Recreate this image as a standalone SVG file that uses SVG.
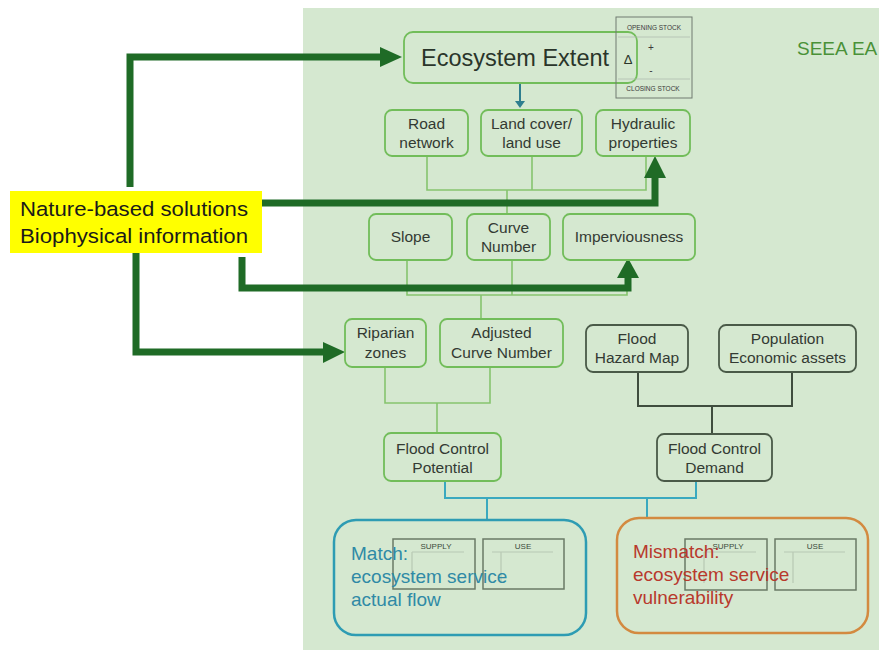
<svg xmlns="http://www.w3.org/2000/svg" width="879" height="650" viewBox="0 0 879 650">
  <style>
    text { font-family: "Liberation Sans", Arial, sans-serif; }
    .node rect { fill: #d5e8d0; stroke: #72bd5a; stroke-width: 1.8; }
    .node.dark rect { stroke: #4a5a48; stroke-width: 1.8; }
    .lbl { font-size: 15.5px; fill: #333a33; text-anchor: middle; }
    .tree { fill: none; stroke: #86c46e; stroke-width: 1.6; }
    .tree-dark { fill: none; stroke: #3f4d3e; stroke-width: 2; }
    .teal { fill: none; stroke: #3aa9bf; stroke-width: 2; }
    .nbs { fill: none; stroke: #1f6b26; stroke-width: 7; stroke-linejoin: miter; }
    .head { fill: #1f6b26; }
    .acct { fill: none; stroke: #6a7a66; stroke-width: 1.5; }
    .acct-line { fill: none; stroke: #b8c8b4; stroke-width: 1.2; }
    .acct-txt { font-size: 8px; fill: #3a4a3a; text-anchor: middle; }
    .stock-txt { font-size: 6.5px; fill: #3a3a3a; text-anchor: middle; }
  </style>

  <!-- SEEA EA panel -->
  <rect x="303" y="8" width="576" height="642" fill="#d5e8d0"/>
  <text x="797" y="55" font-size="19" fill="#4a9138">SEEA EA</text>

  <!-- Connectors -->
  <g id="connectors">
    <!-- extent to land cover -->
    <line x1="520" y1="83" x2="520" y2="103" stroke="#2e7e8e" stroke-width="2"/>
    <polygon points="515,101 525,101 520,108" fill="#2e7e8e"/>

    <!-- row 2 to row 3 -->
    <path class="tree" d="M427,156 V190 H646 V156 M532,156 V190 M507,190 V214"/>
    <!-- row 3 to row 4 -->
    <path class="tree" d="M407,260 V295 H627 V260 M512,260 V295 M481,295 V318"/>
    <!-- row 4 to potential -->
    <path class="tree" d="M385,367 V403 H490 V367 M437,403 V433"/>
    <!-- hazard and exposure to demand -->
    <path class="tree-dark" d="M638,372 V406 H792 V372 M712,406 V434"/>
    <!-- potential and demand to match / mismatch -->
    <path class="teal" d="M445,481 V498 H696 V481 M487,498 V520 M647,498 V518"/>

    <!-- nature-based solutions arrows -->
    <path class="nbs" d="M130,187 V57 H382"/>
    <polygon class="head" points="380,47 402,57 380,67"/>
    <path class="nbs" d="M262,203 H655 V176"/>
    <polygon class="head" points="644,178 655,156 666,178"/>
    <path class="nbs" d="M242,257 V288 H628 V276"/>
    <polygon class="head" points="617,278 628,258 639,278"/>
    <path class="nbs" d="M136,253 V352 H325"/>
    <polygon class="head" points="323,342 345,352 323,363"/>
  </g>

  <!-- Ecosystem Extent with stock account -->
  <g id="ecosystem-extent" class="node">
    <rect x="404" y="32" width="233" height="51" rx="9"/>
    <text x="421" y="66" font-size="23.5" fill="#2a352a">Ecosystem Extent</text>
    <text x="628" y="64" font-size="13" fill="#2a352a" text-anchor="middle">Δ</text>
  </g>
  <g id="stock-account">
    <rect x="616" y="17" width="76" height="81" fill="none" stroke="#707a70" stroke-width="1"/>
    <line x1="618" y1="37" x2="690" y2="37" stroke="#b0bcb0" stroke-width="0.8"/>
    <line x1="618" y1="79" x2="690" y2="79" stroke="#b0bcb0" stroke-width="0.8"/>
    <text class="stock-txt" x="654" y="30">OPENING STOCK</text>
    <text class="stock-txt" x="651" y="51" style="font-size:10px">+</text>
    <text class="stock-txt" x="651" y="74" style="font-size:10px">-</text>
    <text class="stock-txt" x="653" y="91">CLOSING STOCK</text>
  </g>

  <!-- Row 2 -->
  <g id="road-network" class="node">
    <rect x="385" y="110" width="83" height="46" rx="7"/>
    <text class="lbl" x="426.5" y="129">Road</text>
    <text class="lbl" x="426.5" y="148">network</text>
  </g>
  <g id="land-cover" class="node">
    <rect x="481" y="110" width="101" height="46" rx="7"/>
    <text class="lbl" x="531.5" y="129">Land cover/</text>
    <text class="lbl" x="531.5" y="148">land use</text>
  </g>
  <g id="hydraulic-properties" class="node">
    <rect x="596" y="110" width="94" height="46" rx="7"/>
    <text class="lbl" x="643" y="129">Hydraulic</text>
    <text class="lbl" x="643" y="148">properties</text>
  </g>

  <!-- Row 3 -->
  <g id="slope" class="node">
    <rect x="369" y="214" width="83" height="46" rx="7"/>
    <text class="lbl" x="410.5" y="242">Slope</text>
  </g>
  <g id="curve-number" class="node">
    <rect x="467" y="214" width="83" height="46" rx="7"/>
    <text class="lbl" x="508.5" y="233">Curve</text>
    <text class="lbl" x="508.5" y="252">Number</text>
  </g>
  <g id="imperviousness" class="node">
    <rect x="563" y="214" width="132" height="46" rx="7"/>
    <text class="lbl" x="629" y="242">Imperviousness</text>
  </g>

  <!-- Row 4 -->
  <g id="riparian-zones" class="node">
    <rect x="345" y="319" width="81" height="48" rx="7"/>
    <text class="lbl" x="385.5" y="338">Riparian</text>
    <text class="lbl" x="385.5" y="358">zones</text>
  </g>
  <g id="adjusted-curve-number" class="node">
    <rect x="440" y="319" width="123" height="48" rx="7"/>
    <text class="lbl" x="501.5" y="338">Adjusted</text>
    <text class="lbl" x="501.5" y="358">Curve Number</text>
  </g>
  <g id="flood-hazard-map" class="node dark">
    <rect x="586" y="325" width="102" height="47" rx="7"/>
    <text class="lbl" x="637" y="344">Flood</text>
    <text class="lbl" x="637" y="363">Hazard Map</text>
  </g>
  <g id="population-assets" class="node dark">
    <rect x="719" y="325" width="137" height="47" rx="7"/>
    <text class="lbl" x="787.5" y="344">Population</text>
    <text class="lbl" x="787.5" y="363">Economic assets</text>
  </g>

  <!-- Row 5 -->
  <g id="flood-control-potential" class="node">
    <rect x="384" y="433" width="117" height="48" rx="7"/>
    <text class="lbl" x="442.5" y="454">Flood Control</text>
    <text class="lbl" x="442.5" y="473">Potential</text>
  </g>
  <g id="flood-control-demand" class="node dark">
    <rect x="657" y="434" width="115" height="47" rx="7"/>
    <text class="lbl" x="714.5" y="454">Flood Control</text>
    <text class="lbl" x="714.5" y="473">Demand</text>
  </g>

  <!-- Match -->
  <g id="match">
    <rect x="334" y="520" width="252" height="115" rx="22" fill="none" stroke="#2e9cb3" stroke-width="2.5"/>
    <rect class="acct" x="393" y="539" width="82" height="50"/>
    <path class="acct-line" d="M412,552 H464 M412,552 V582"/>
    <text class="acct-txt" x="436" y="549">SUPPLY</text>
    <rect class="acct" x="483" y="539" width="81" height="50"/>
    <path class="acct-line" d="M492,552 H553 M501,552 V582"/>
    <text class="acct-txt" x="523" y="549">USE</text>
    <g font-size="19" fill="#2f8aa6">
      <text x="351" y="560">Match:</text>
      <text x="351" y="583">ecosystem service</text>
      <text x="351" y="606">actual flow</text>
    </g>
  </g>

  <!-- Mismatch -->
  <g id="mismatch">
    <rect x="617" y="518" width="251" height="115" rx="22" fill="none" stroke="#d38a40" stroke-width="2.5"/>
    <rect class="acct" x="685" y="539" width="82" height="51"/>
    <path class="acct-line" d="M704,552 H756 M704,552 V583"/>
    <text class="acct-txt" x="728" y="549">SUPPLY</text>
    <rect class="acct" x="775" y="539" width="81" height="51"/>
    <path class="acct-line" d="M784,552 H845 M793,552 V583"/>
    <text class="acct-txt" x="815" y="549">USE</text>
    <g font-size="19" fill="#b8392c">
      <text x="633" y="558">Mismatch:</text>
      <text x="633" y="581">ecosystem service</text>
      <text x="633" y="604">vulnerability</text>
    </g>
  </g>

  <!-- Nature-based solutions source -->
  <g id="nature-based-solutions">
    <rect x="10" y="191" width="252" height="62" fill="#ffff00"/>
    <text x="20" y="216" font-size="20.5" fill="#1a1a1a" textLength="228" lengthAdjust="spacingAndGlyphs">Nature-based solutions</text>
    <text x="20" y="243" font-size="20.5" fill="#1a1a1a" textLength="228" lengthAdjust="spacingAndGlyphs">Biophysical information</text>
  </g>
</svg>
